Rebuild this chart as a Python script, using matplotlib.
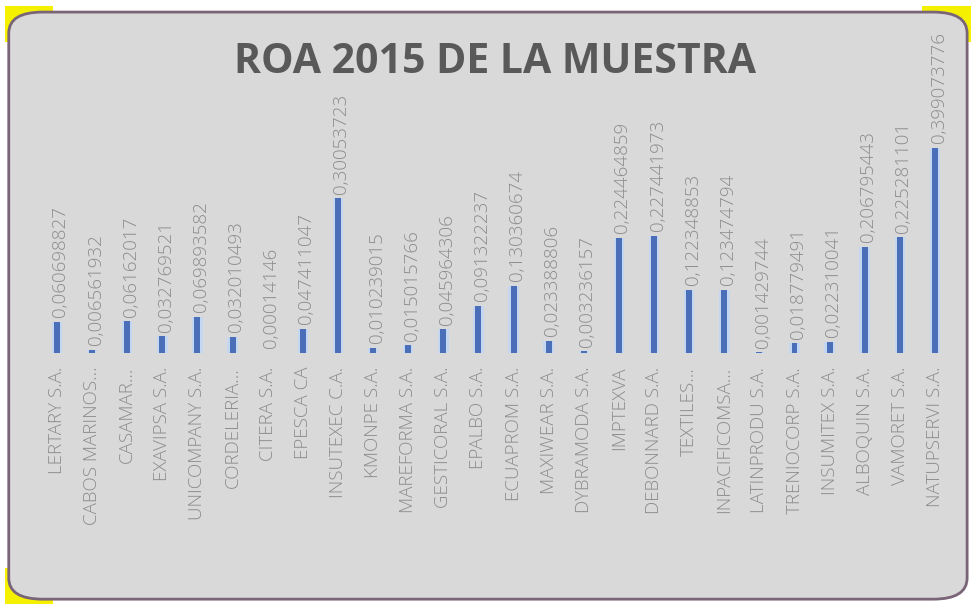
import matplotlib.pyplot as plt
from matplotlib.patches import FancyBboxPatch, Rectangle

empresas = ["LERTARY S.A.", "CABOS MARINOS...", "CASAMAR...", "EXAVIPSA S.A.",
            "UNICOMPANY S.A.", "CORDELERIA...", "CITERA S.A.", "EPESCA CA",
            "INSUTEXEC C.A.", "KMONPE S.A.", "MAREFORMA S.A.", "GESTICORAL S.A.",
            "EPALBO S.A.", "ECUAPROM S.A.", "MAXIWEAR S.A.", "DYBRAMODA S.A.",
            "IMPTEXVA", "DEBONNARD S.A.", "TEXTILES...", "INPACIFICOMSA...",
            "LATINPRODU S.A.", "TRENIOCORP S.A.", "INSUMITEX S.A.", "ALBOQUIN S.A.",
            "VAMORET S.A.", "NATUPSERVI S.A."]
roa = [0.060698827, 0.006561932, 0.06162017, 0.032769521,
       0.069893582, 0.032010493, 0.00014146, 0.047411047,
       0.30053723, 0.010239015, 0.015015766, 0.045964306,
       0.091322237, 0.130360674, 0.023388806, 0.003236157,
       0.224464859, 0.227441973, 0.122348853, 0.123474794,
       0.001429744, 0.018779491, 0.022310041, 0.206795443,
       0.225281101, 0.399073776]
etiquetas = ["0,060698827", "0,006561932", "0,06162017", "0,032769521",
             "0,069893582", "0,032010493", "0,00014146", "0,047411047",
             "0,30053723", "0,010239015", "0,015015766", "0,045964306",
             "0,091322237", "0,130360674", "0,023388806", "0,003236157",
             "0,224464859", "0,227441973", "0,122348853", "0,123474794",
             "0,001429744", "0,018779491", "0,022310041", "0,206795443",
             "0,225281101", "0,399073776"]

fig = plt.figure(figsize=(9.71, 6.04), dpi=100)
fig.patch.set_facecolor("white")

# marco del grafico (esquinas amarillas + caja redondeada gris)
for (x0, y0) in [(0.005, 0.93), (0.005, 0.0), (0.95, 0.93)]:
    fig.patches.append(Rectangle((x0, y0), 0.05, 0.06, transform=fig.transFigure,
                                 facecolor="#f5f000", edgecolor="none", zorder=-3))
caja = FancyBboxPatch((0.009, 0.008), 0.987, 0.972, boxstyle="round,pad=0,rounding_size=0.035",
                      transform=fig.transFigure, facecolor="#d9d9d9",
                      edgecolor="#7a6478", linewidth=2.0, zorder=-2)
fig.patches.append(caja)

ax = fig.add_axes([0.0406, 0.4156, 0.9404, 0.383])
ax.set_facecolor("none")
x = list(range(len(roa)))
# leve brillo azul claro alrededor de las barras
ax.bar(x, roa, width=0.3, color="#c4d6f0", edgecolor="none", zorder=2)
ax.bar(x, roa, width=0.17, color="#4a6fb8", edgecolor="none", zorder=3)
for i, v in enumerate(roa):
    ax.text(i + 0.1, v + 0.009, etiquetas[i], rotation=90, ha="center", va="bottom",
            fontsize=13.5, color="#8c8c8c", family="Open Sans", fontweight="light",
            clip_on=False)

ax.set_xlim(-0.5, len(roa) - 0.5)
ax.set_ylim(0, 0.45)
ax.set_xticks(x)
ax.set_xticklabels(empresas, rotation=90, fontsize=13.5, color="#8c8c8c",
                   family="Open Sans", fontweight="light")
ax.tick_params(axis="x", length=0, pad=10)
ax.set_yticks([])
for s in ax.spines.values():
    s.set_visible(False)

fig.text(0.51, 0.897, "ROA 2015 DE LA MUESTRA", ha="center", va="center",
         fontsize=29.5, fontweight="bold", color="#595959", family="Open Sans")

plt.savefig("out.png", dpi=100)
